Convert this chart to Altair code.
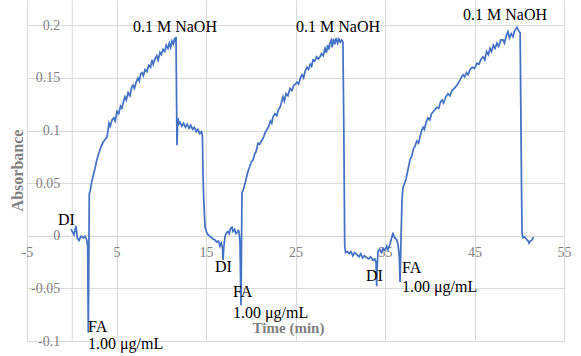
import altair as alt
import pandas as pd

# ---- data (time in min, absorbance) ----
t_base1 = [-0.08, 0.25, 0.47, 0.62, 0.81, 1.03, 1.29, 1.48, 1.67, 1.78, 1.85, 1.96]
a_base1 = [0.0063, 0.001, 0.0095, -0.002, -0.0044, -0.0006, -0.002, -0.0006, -0.004, -0.010, -0.092, 0.040]

t_rise1 = [2.05, 2.2, 2.37, 2.6, 2.8, 3.0, 3.16, 3.3, 3.5, 3.7, 3.94, 4.05, 4.16, 4.3, 4.5, 4.7, 4.85,
           5.06, 5.25, 5.45, 5.6, 5.8, 5.95, 6.1, 6.3, 6.5, 6.7, 6.84, 7.0, 7.2, 7.4, 7.55, 7.7, 7.85,
           8.0, 8.2, 8.4, 8.6, 8.8, 8.97, 9.1, 9.3, 9.5, 9.65, 9.86, 10.0, 10.2, 10.4, 10.55, 10.75,
           10.9, 11.05, 11.2, 11.35, 11.5, 11.6, 11.65]
a_rise1 = [0.042, 0.050, 0.056, 0.064, 0.072, 0.078, 0.082, 0.085, 0.089, 0.091, 0.094, 0.100, 0.107,
           0.104, 0.110, 0.112, 0.109, 0.118, 0.116, 0.123, 0.121, 0.128, 0.132, 0.129, 0.136, 0.133,
           0.141, 0.143, 0.140, 0.146, 0.150, 0.147, 0.154, 0.155, 0.152, 0.158, 0.156, 0.162, 0.160,
           0.167, 0.163, 0.168, 0.171, 0.167, 0.174, 0.172, 0.177, 0.175, 0.181, 0.178, 0.183, 0.179,
           0.185, 0.182, 0.188, 0.184, 0.189]

t_fall1 = [11.72, 11.76, 11.85, 11.95, 12.1, 12.3, 12.5, 12.7, 12.9, 13.1, 13.3, 13.5, 13.7, 13.9,
           14.1, 14.3, 14.5, 14.6, 14.66, 14.75, 14.89, 15.05, 15.22, 15.5, 15.8, 16.0, 16.2, 16.4,
           16.56, 16.7, 16.85, 16.9, 17.0, 17.12, 17.3, 17.46, 17.6, 17.75, 17.91, 18.02, 18.2, 18.35,
           18.46, 18.6, 18.69, 18.8, 18.91, 19.02, 19.15]
a_fall1 = [0.120, 0.086, 0.112, 0.106, 0.108, 0.104, 0.107, 0.103, 0.106, 0.102, 0.105, 0.101, 0.103,
           0.099, 0.101, 0.097, 0.099, 0.095, 0.060, 0.034, 0.0085, 0.004, 0.001, -0.001, -0.003,
           -0.004, -0.006, -0.005, -0.010, -0.007, -0.012, -0.023, -0.010, -0.001, 0.003, 0.004,
           0.002, 0.007, 0.008, 0.004, 0.006, 0.002, 0.003, 0.005, 0.004, -0.007, -0.066, 0.041, 0.043]

t_rise2 = [19.25, 19.45, 19.69, 19.9, 20.05, 20.25, 20.45, 20.6, 20.81, 21.0, 21.26, 21.45, 21.6,
           21.82, 22.0, 22.2, 22.35, 22.49, 22.7, 22.9, 23.1, 23.27, 23.45, 23.6, 23.75, 23.95, 24.15,
           24.39, 24.6, 24.8, 25.0, 25.17, 25.35, 25.55, 25.73, 25.9, 26.1, 26.28, 26.45, 26.65, 26.8,
           26.96, 27.15, 27.35, 27.55, 27.74, 27.9, 28.1, 28.3, 28.45, 28.6, 28.75, 28.85, 29.0, 29.1,
           29.25, 29.4, 29.55, 29.7, 29.85, 30.0, 30.15, 30.3]
a_rise2 = [0.046, 0.053, 0.061, 0.066, 0.070, 0.072, 0.078, 0.080, 0.088, 0.087, 0.091, 0.094, 0.098,
           0.101, 0.104, 0.109, 0.107, 0.113, 0.116, 0.114, 0.120, 0.122, 0.127, 0.132, 0.128, 0.135,
           0.133, 0.140, 0.138, 0.143, 0.144, 0.146, 0.144, 0.150, 0.153, 0.150, 0.157, 0.160, 0.158,
           0.163, 0.161, 0.167, 0.166, 0.170, 0.168, 0.170, 0.173, 0.171, 0.178, 0.174, 0.181, 0.177,
           0.183, 0.186, 0.179, 0.187, 0.182, 0.188, 0.183, 0.187, 0.184, 0.186, 0.184]

t_fall2 = [30.4, 30.5, 30.6, 30.8, 31.0, 31.2, 31.4, 31.6, 31.87, 32.1, 32.3, 32.5, 32.7, 32.99, 33.2,
           33.4, 33.66, 33.85, 34.0, 34.07, 34.15, 34.22, 34.4, 34.6, 34.78, 35.0, 35.2, 35.34, 35.55,
           35.78, 35.89, 36.0, 36.12, 36.3, 36.45, 36.6, 36.68, 36.8, 36.9, 37.01, 37.2, 37.35]
a_fall2 = [0.100, -0.010, -0.016, -0.015, -0.017, -0.015, -0.019, -0.016, -0.018, -0.020, -0.017,
           -0.021, -0.019, -0.021, -0.022, -0.020, -0.023, -0.022, -0.025, -0.048, -0.025, -0.015,
           -0.013, -0.016, -0.012, -0.014, -0.010, -0.013, -0.008, -0.001, 0.003, -0.001, -0.002,
           -0.004, -0.008, -0.020, -0.044, 0.000, 0.034, 0.046, 0.050, 0.054]

t_rise3 = [37.57, 37.79, 38.0, 38.2, 38.35, 38.55, 38.75, 38.91, 39.1, 39.25, 39.4, 39.6, 39.8, 40.0,
           40.2, 40.4, 40.59, 40.8, 41.0, 41.2, 41.37, 41.55, 41.8, 42.04, 42.25, 42.5, 42.75, 43.04,
           43.25, 43.5, 43.72, 43.9, 44.1, 44.3, 44.5, 44.75, 45.0, 45.28, 45.5, 45.75, 45.95, 46.15,
           46.35, 46.55, 46.73, 46.9, 47.1, 47.3, 47.51, 47.7, 47.95, 48.18, 48.35, 48.55, 48.74, 48.9,
           49.1, 49.3, 49.5, 49.75, 49.97, 50.1]
a_rise3 = [0.063, 0.072, 0.076, 0.083, 0.085, 0.090, 0.088, 0.094, 0.100, 0.103, 0.101, 0.108, 0.112,
           0.110, 0.116, 0.118, 0.120, 0.122, 0.121, 0.127, 0.129, 0.126, 0.132, 0.135, 0.133, 0.138,
           0.140, 0.143, 0.146, 0.150, 0.153, 0.151, 0.155, 0.153, 0.158, 0.160, 0.159, 0.164, 0.163,
           0.168, 0.170, 0.167, 0.175, 0.172, 0.178, 0.175, 0.181, 0.178, 0.183, 0.180, 0.186, 0.186,
           0.183, 0.190, 0.194, 0.188, 0.192, 0.189, 0.195, 0.198, 0.194, 0.193]

t_fall3 = [50.25, 50.31, 50.42, 50.6, 50.87, 51.0, 51.09, 51.25, 51.42, 51.55, 51.65]
a_fall3 = [0.050, 0.003, -0.002, -0.001, -0.004, -0.005, -0.007, -0.005, -0.004, -0.002, -0.002]

time_min = t_base1 + t_rise1 + t_fall1 + t_rise2 + t_fall2 + t_rise3 + t_fall3
absorb = a_base1 + a_rise1 + a_fall1 + a_rise2 + a_fall2 + a_rise3 + a_fall3
df = pd.DataFrame({"t": time_min, "a": absorb})

# ---- annotations ----
ann_text = ["0.1 M NaOH", "0.1 M NaOH", "0.1 M NaOH", "DI", "DI", "DI",
            "FA", "FA", "FA", "1.00 μg/mL", "1.00 μg/mL", "1.00 μg/mL"]
ann_t = [6.84, 25.06, 43.72, -1.54, 16.01, 32.88, 1.82, 18.02, 36.9, 1.82, 18.02, 36.9]
ann_a = [0.198, 0.198, 0.210, 0.015, -0.030, -0.038, -0.087, -0.053, -0.031, -0.103, -0.073, -0.049]
ann = pd.DataFrame({"t": ann_t, "a": ann_a, "label": ann_text})

x_ticks = [-5, 5, 15, 25, 35, 45, 55]
y_ticks = [-0.1, -0.05, 0, 0.05, 0.1, 0.15, 0.2]
x_dom = [-5, 55]
y_dom = [-0.1, 0.224]

W, H = 537, 341
x0_px = (0 - x_dom[0]) / (x_dom[1] - x_dom[0]) * W
y0_px = (y_dom[1] - 0) / (y_dom[1] - y_dom[0]) * H

GRID = "#d9d9d9"
LBL = "#808080"
SERIF = "Liberation Serif"

x_enc = alt.X(
    "t:Q",
    scale=alt.Scale(domain=x_dom, nice=False, zero=False),
    axis=alt.Axis(
        values=x_ticks, grid=True, gridColor=GRID, gridWidth=1,
        domainColor=GRID, ticks=False, tickSize=0,
        labelPadding=10, labelFlush=False, labelOverlap=False,
        labelFont=SERIF, labelFontSize=14, labelColor=LBL,
        labelExpr="'' + datum.value",
        offset=-(H - y0_px),
        title="Time (min)", titleFont=SERIF, titleFontSize=15, titleFontWeight="bold",
        titleColor=LBL, titleX=261, titleY=92, titleAlign="center", titleBaseline="middle",
    ),
)
y_enc = alt.Y(
    "a:Q",
    scale=alt.Scale(domain=y_dom, nice=False, zero=False),
    axis=alt.Axis(
        values=y_ticks, grid=True, gridColor=GRID, gridWidth=1,
        domainColor=GRID, ticks=False, tickSize=0,
        labelPadding=12, labelOverlap=False, labelFlush=False,
        labelFont=SERIF, labelFontSize=14, labelColor=LBL,
        labelExpr="'' + datum.value",
        offset=-x0_px,
        title="Absorbance", titleFont=SERIF, titleFontSize=16, titleFontWeight="bold",
        titleColor=LBL, titleX=17.5 - (27 + x0_px) + 27 - 27, titleY=170,
        titleAlign="center", titleBaseline="middle", titleAngle=270,
    ),
)

line = alt.Chart(df).mark_line(color="#4472C4", strokeWidth=1.75).encode(x=x_enc, y=y_enc)
text = alt.Chart(ann).mark_text(
    align="left", baseline="middle", font=SERIF, fontSize=16, color="black"
).encode(x=x_enc, y=y_enc, text="label:N")

chart = (
    alt.layer(line, text)
    .properties(
        width=W, height=H,
        autosize=alt.AutoSizeParams(type="none"),
        padding={"left": 27, "top": 0, "right": 17, "bottom": 15},
        background="white",
    )
    .configure_view(strokeWidth=0)
)

chart.save("out.html", embed_options={"renderer": "svg", "actions": False})
